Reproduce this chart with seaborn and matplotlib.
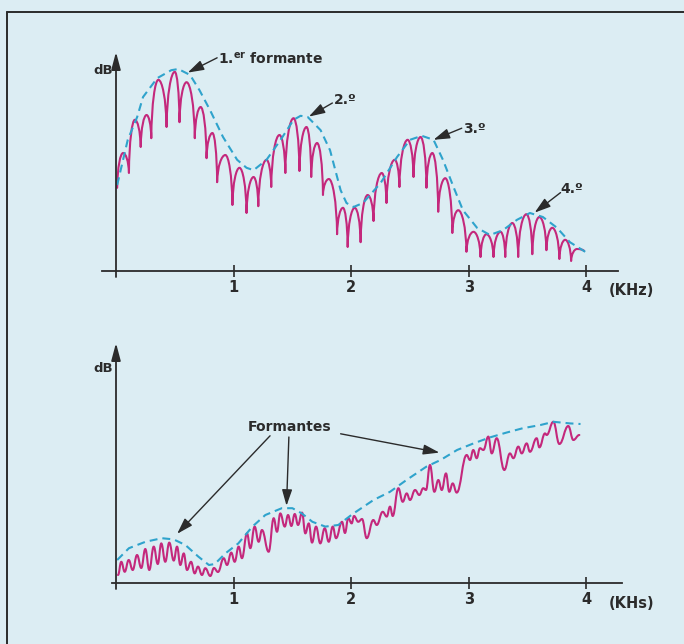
import numpy as np
import pandas as pd
import seaborn as sns
import matplotlib
matplotlib.use("Agg")
import matplotlib.pyplot as plt
from matplotlib.path import Path
from matplotlib.patches import PathPatch
from matplotlib.lines import Line2D

# ---- data ----
# upper spectrum: start, then alternating harmonic peak / cusp, then end
top_khz = [0.01, 0.06, 0.11, 0.16, 0.21, 0.26, 0.30, 0.36, 0.43, 0.50, 0.54, 0.60, 0.67, 0.72,
           0.77, 0.82, 0.86, 0.93, 0.99, 1.05, 1.11, 1.17, 1.21, 1.28, 1.32, 1.39, 1.44, 1.51,
           1.56, 1.62, 1.66, 1.71, 1.76, 1.81, 1.88, 1.93, 1.97, 2.03, 2.08, 2.14, 2.19, 2.26,
           2.30, 2.37, 2.41, 2.48, 2.53, 2.59, 2.64, 2.69, 2.74, 2.80, 2.86, 2.91, 2.98, 3.04,
           3.10, 3.15, 3.21, 3.27, 3.31, 3.37, 3.42, 3.49, 3.54, 3.60, 3.66, 3.71, 3.77, 3.82,
           3.87, 3.92, 3.98]
top_db = [20.8, 29.5, 24.5, 37.8, 31.0, 39.0, 33.2, 47.8, 36.0, 49.8, 37.2, 47.2, 33.2, 41.0,
          28.2, 34.5, 22.2, 29.0, 16.5, 25.8, 14.5, 23.5, 16.2, 27.8, 21.0, 34.0, 24.5, 38.2,
          25.0, 36.0, 23.5, 32.0, 19.0, 23.0, 9.2, 15.8, 6.0, 15.8, 7.2, 19.0, 12.5, 24.5,
          17.0, 27.8, 21.0, 32.8, 23.5, 33.5, 20.8, 29.5, 14.8, 23.2, 9.5, 15.2, 4.8, 9.8,
          3.5, 9.2, 3.5, 9.8, 3.5, 12.0, 3.5, 14.2, 4.2, 13.5, 5.2, 10.8, 3.0, 7.8,
          2.5, 5.5, 5.0]

# upper envelope (dashed)
env_top_khz = [0.01, 0.10, 0.18, 0.23, 0.35, 0.47, 0.53, 0.63, 0.71, 0.80, 0.91, 1.03, 1.11,
               1.17, 1.28, 1.40, 1.51, 1.57, 1.63, 1.74, 1.82, 1.91, 1.96, 2.02, 2.10, 2.25,
               2.39, 2.50, 2.60, 2.70, 2.78, 2.87, 2.95, 3.07, 3.18, 3.29, 3.41, 3.52, 3.63,
               3.75, 3.86, 3.99]
env_top_db = [21.5, 32.8, 38.5, 43.5, 48.2, 50.2, 50.5, 49.0, 45.2, 40.2, 33.5, 27.8, 25.8,
              25.2, 27.8, 32.8, 37.8, 38.8, 38.5, 35.2, 30.2, 20.2, 17.0, 16.0, 17.0, 22.0,
              28.5, 32.8, 33.8, 32.8, 27.8, 21.0, 15.2, 10.8, 9.0, 10.2, 12.8, 14.5, 13.5,
              10.8, 7.2, 4.8]

# lower spectrum: start, then alternating peak / trough, then end
bot_khz = [0.017, 0.045, 0.074, 0.108, 0.142, 0.179, 0.215, 0.249, 0.283, 0.321, 0.355, 0.385,
           0.419, 0.453, 0.491, 0.519, 0.547, 0.576, 0.604, 0.638, 0.669, 0.697, 0.731, 0.759,
           0.802, 0.833, 0.867, 0.916, 0.944, 0.980, 1.009, 1.043, 1.071, 1.114, 1.142, 1.179,
           1.213, 1.241, 1.298, 1.341, 1.369, 1.397, 1.435, 1.463, 1.491, 1.520, 1.548, 1.582,
           1.610, 1.639, 1.667, 1.701, 1.737, 1.775, 1.809, 1.843, 1.871, 1.922, 1.947, 1.975,
           2.004, 2.024, 2.060, 2.092, 2.132, 2.188, 2.217, 2.268, 2.302, 2.330, 2.353, 2.401,
           2.438, 2.472, 2.500, 2.543, 2.579, 2.613, 2.636, 2.670, 2.707, 2.741, 2.770, 2.806,
           2.834, 2.863, 2.897, 2.982, 3.010, 3.038, 3.067, 3.095, 3.124, 3.166, 3.195, 3.237,
           3.302, 3.350, 3.379, 3.421, 3.450, 3.492, 3.520, 3.577, 3.600, 3.648, 3.662, 3.719,
           3.770, 3.846, 3.889, 3.940]
bot_db = [2.0, 5.3, 2.8, 5.75, 3.25, 7.0, 3.75, 8.5, 3.25, 9.1, 4.75, 9.9,
          5.3, 10.1, 5.6, 9.1, 4.5, 7.4, 3.25, 5.3, 2.4, 4.1, 2.0, 3.7,
          1.75, 3.75, 2.75, 6.2, 4.5, 7.6, 5.3, 9.1, 6.2, 12.4, 8.7, 14.1,
          10.3, 13.25, 7.8, 16.2, 12.8, 17.4, 14.1, 17.0, 14.25, 17.25, 14.5, 17.6,
          12.4, 14.9, 10.1, 14.1, 9.9, 13.7, 10.3, 14.1, 11.2, 15.3, 12.5, 16.2,
          14.9, 16.75, 15.3, 16.0, 11.2, 15.75, 14.5, 17.8, 16.6, 19.1, 16.75, 23.7,
          20.3, 22.4, 20.75, 23.25, 22.0, 23.7, 23.25, 29.5, 22.8, 25.75, 23.25, 27.4,
          22.8, 24.9, 22.6, 32.0, 30.75, 33.25, 31.2, 33.7, 33.25, 36.6, 32.4, 36.2,
          28.25, 32.4, 31.2, 34.1, 32.4, 34.9, 32.8, 36.2, 33.9, 37.4, 37.0, 40.3,
          34.75, 39.25, 35.75, 37.0]

env_bot_khz = [0.01, 0.11, 0.25, 0.39, 0.49, 0.59, 0.70, 0.79, 0.84, 0.93, 1.04, 1.16, 1.27,
               1.41, 1.50, 1.58, 1.67, 1.78, 1.89, 2.01, 2.19, 2.33, 2.47, 2.64, 2.76, 2.90,
               3.04, 3.18, 3.32, 3.46, 3.61, 3.72, 3.86, 3.95]
env_bot_db = [5.75, 8.7, 10.3, 11.2, 10.9, 9.5, 6.6, 4.5, 4.75, 7.4, 9.9, 14.1, 17.0,
              18.7, 18.7, 17.4, 15.3, 14.1, 14.5, 17.2, 20.75, 22.8, 25.75, 29.1, 30.75, 33.25,
              34.9, 36.4, 37.6, 38.7, 39.5, 40.3, 39.9, 39.75]

freq_ticks = [1, 2, 3, 4]

# ---- style ----
bg = "#dcedf3"
ink = "#2b2b2b"
magenta = "#c4287c"
cyan = "#2fa3cc"

sns.set_theme(style="white")
plt.rcParams["font.family"] = ["DejaVu Sans"]
plt.rcParams["font.weight"] = "bold"


def spectrum_path(xs, ys, cusps=True):
    # cubic bezier pieces between the read extrema: sharp cusps / rounded tops
    verts = [(xs[0], ys[0])]
    codes = [Path.MOVETO]
    for i in range(1, len(xs)):
        x0, y0, x1, y1 = xs[i - 1], ys[i - 1], xs[i], ys[i]
        dx = x1 - x0
        if cusps and y1 > y0:
            c1 = (x0 + 0.05 * dx, y0 + 0.6 * (y1 - y0))
            c2 = (x1 - 0.45 * dx, y1)
        elif cusps:
            c1 = (x0 + 0.45 * dx, y0)
            c2 = (x1 - 0.05 * dx, y1 + 0.6 * (y0 - y1))
        else:
            c1 = (x0 + 0.42 * dx, y0)
            c2 = (x1 - 0.42 * dx, y1)
        verts += [c1, c2, (x1, y1)]
        codes += [Path.CURVE4] * 3
    return Path(verts, codes)


def draw_frame(ax, y_top, x_left, x_right, unit, label_y, db_y):
    ax.set_facecolor("none")
    for s in ["top", "right", "left"]:
        ax.spines[s].set_visible(False)
    ax.spines["bottom"].set_position(("data", 0))
    ax.spines["bottom"].set_bounds(x_left, x_right)
    ax.spines["bottom"].set_color(ink)
    ax.spines["bottom"].set_linewidth(1.3)
    ax.set_xticks(freq_ticks)
    ax.set_xticklabels([str(t) for t in freq_ticks], fontsize=10.5, fontweight="bold", color=ink)
    ax.tick_params(axis="x", direction="inout", length=9, width=1.2, color=ink, pad=2,
                   bottom=True)
    ax.set_yticks([])
    ax.annotate("", xy=(0, y_top), xytext=(0, -1.5),
                arrowprops=dict(arrowstyle="-|>,head_length=0.75,head_width=0.2",
                                color=ink, lw=1.3, mutation_scale=14,
                                shrinkA=0, shrinkB=0))
    ax.text(4.38, label_y, unit, fontsize=10.5, fontweight="bold", color=ink,
            ha="center", va="center")
    ax.text(-0.11, db_y, "dB", fontsize=9.5, fontweight="bold", color=ink,
            ha="center", va="center")


def pointer(ax, text_xy, tip_xy):
    ax.annotate("", xy=tip_xy, xytext=text_xy,
                arrowprops=dict(arrowstyle="-|>,head_length=0.7,head_width=0.22",
                                color=ink, lw=1.0, mutation_scale=14,
                                shrinkA=0, shrinkB=0))


fig = plt.figure(figsize=(6.84, 6.44), dpi=100)
fig.patch.set_facecolor(bg)

x_lim = (-116 / 117.6, (684 - 116) / 117.6)

# ---- upper panel ----
ax1 = fig.add_axes([0, 1 - 320 / 644, 1, 300 / 644])
ax1.set_xlim(*x_lim)
ax1.set_ylim((271 - 320) / 4, (271 - 20) / 4)
draw_frame(ax1, 54.75, -0.12, 4.27, "(KHz)", -4.75, 50.25)

ax1.add_patch(PathPatch(spectrum_path(top_khz, top_db, True), fill=False, ec=magenta,
                        lw=1.5, joinstyle="round", capstyle="round"))
env1 = pd.DataFrame({"kHz": env_top_khz, "dB": env_top_db})
sns.lineplot(data=env1, x="kHz", y="dB", ax=ax1, color=cyan, lw=1.5, sort=False,
             estimator=None, linestyle=(0, (3.8, 2.4)))
ax1.set_xlabel("")
ax1.set_ylabel("")

ax1.text(0.87, 53.0, "1.$^{\\mathbf{er}}$ formante", fontsize=10, fontweight="bold",
         color=ink, ha="left", va="center")
pointer(ax1, (0.86, 53.3), (0.61, 49.6))
ax1.text(1.85, 42.8, "2.º", fontsize=10, fontweight="bold", color=ink, ha="left", va="center")
pointer(ax1, (1.84, 42.0), (1.64, 38.6))
ax1.text(2.95, 35.6, "3.º", fontsize=10, fontweight="bold", color=ink, ha="left", va="center")
pointer(ax1, (2.94, 35.7), (2.70, 32.8))
ax1.text(3.78, 20.6, "4.º", fontsize=10, fontweight="bold", color=ink, ha="left", va="center")
pointer(ax1, (3.78, 19.6), (3.56, 14.6))

# ---- lower panel ----
ax2 = fig.add_axes([0, 0, 1, 324 / 644])
ax2.set_xlim(*x_lim)
ax2.set_ylim((583 - 644) / 4, (583 - 320) / 4)
draw_frame(ax2, 60.0, -0.03, 4.30, "(KHs)", -5.0, 53.75)

ax2.add_patch(PathPatch(spectrum_path(bot_khz, bot_db, False), fill=False, ec=magenta,
                        lw=1.5, joinstyle="round", capstyle="round"))
env2 = pd.DataFrame({"kHz": env_bot_khz, "dB": env_bot_db})
sns.lineplot(data=env2, x="kHz", y="dB", ax=ax2, color=cyan, lw=1.5, sort=False,
             estimator=None, linestyle=(0, (3.8, 2.4)))
ax2.set_xlabel("")
ax2.set_ylabel("")

ax2.text(1.48, 39.0, "Formantes", fontsize=10, fontweight="bold", color=ink,
         ha="center", va="center")
pointer(ax2, (1.31, 36.8), (0.52, 12.3))
pointer(ax2, (1.47, 36.5), (1.45, 19.3))
pointer(ax2, (1.91, 37.3), (2.75, 32.6))

# scanned page frame
fig.add_artist(Line2D([7 / 684, 7 / 684], [0, 1 - 12 / 644], color=ink, lw=1.4))
fig.add_artist(Line2D([7 / 684, 1], [1 - 12 / 644, 1 - 12 / 644], color=ink, lw=1.4))

fig.savefig("out.png", dpi=100, facecolor=bg)
